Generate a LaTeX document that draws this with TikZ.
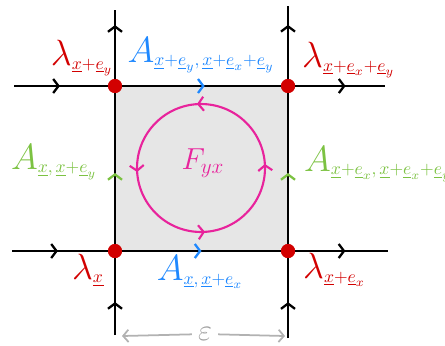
\documentclass[tikz,border=0pt]{standalone}
\usepackage{amsmath,amssymb}
\usepackage{xcolor}
\usetikzlibrary{arrows.meta,decorations.markings,positioning}
\definecolor{sitered}{RGB}{210,0,0}
\definecolor{linkblue}{RGB}{30,136,255}
\definecolor{linkgreen}{RGB}{124,194,66}
\definecolor{fluxpink}{RGB}{232,35,156}
\definecolor{plaqgray}{RGB}{230,230,230}
\newcommand{\vx}{\underline{x}}
\newcommand{\ve}[1]{\underline{e}_{#1}}
\newcommand{\bigsym}[1]{\mbox{\huge$#1$}}
\tikzset{
  site/.style={circle,fill=sitered,inner sep=0pt,minimum size=0.28cm},
  flowmark/.style 2 args={postaction={decorate},decoration={markings,
    mark=at position #1 with {\arrow{Straight Barb[length=3pt,width=8pt,color=#2]}}}},
  lattice/.style={line width=1.3pt,black},
}

\begin{document}
\begin{tikzpicture}[x=0.02cm,y=-0.02cm]
            \useasboundingbox (0,0) rectangle (445,345);
            % --- Plaquette ---
            \fill[plaqgray] (115,86) rectangle (288,251);
            \node[site] (tl) at (115,86) {};
            \node[site] (tr) at (288,86) {};
            \node[site] (bl) at (115,251) {};
            \node[site] (br) at (288,251) {};
            % free ends of the lattice lines
            \coordinate (tlN) at (115,10);
            \coordinate (trN) at (288,6);
            \coordinate (blS) at (115,335);
            \coordinate (brS) at (288,338);
            \coordinate (tlW) at (14,86);
            \coordinate (blW) at (12,251);
            \coordinate (trE) at (385,86);
            \coordinate (brE) at (388,251);
            % links of the plaquette
            \draw[lattice, flowmark={0.52}{linkblue}] (tl) -- (tr);
            \draw[lattice, flowmark={0.5}{linkblue}] (bl) -- (br);
            \draw[lattice, flowmark={0.47}{linkgreen}] (bl) -- (tl);
            \draw[lattice, flowmark={0.47}{linkgreen}] (br) -- (tr);
            % outgoing lines
            \draw[lattice, flowmark={0.78}{black}] (tl) -- (tlN);
            \draw[lattice, flowmark={0.74}{black}] (tr) -- (trN);
            \draw[lattice, flowmark={0.43}{black}] (blS) -- (bl);
            \draw[lattice, flowmark={0.45}{black}] (brS) -- (br);
            \draw[lattice, flowmark={0.49}{black}] (tlW) -- (tl);
            \draw[lattice, flowmark={0.48}{black}] (blW) -- (bl);
            \draw[lattice, flowmark={0.56}{black}] (tr) -- (trE);
            \draw[lattice, flowmark={0.54}{black}] (br) -- (brE);
            % redraw sites on top
            \node[site] at (tl) {};
            \node[site] at (tr) {};
            \node[site] at (bl) {};
            \node[site] at (br) {};

            % --- Flux ---
            \node[fluxpink] (F) at (203,163) {\LARGE $F_{yx}$};
            \draw[fluxpink, line width=1.2pt,
              postaction={decorate},decoration={markings,
                mark=at position 0.01 with {\arrow{Straight Barb[length=3pt,width=8pt]}},
                mark=at position 0.26 with {\arrow{Straight Barb[length=3pt,width=8pt]}},
                mark=at position 0.51 with {\arrow{Straight Barb[length=3pt,width=8pt]}},
                mark=at position 0.76 with {\arrow{Straight Barb[length=3pt,width=8pt]}}}]
              (201,168) circle[radius=1.28cm];

            % --- Labels ---
            \node[sitered] (ltl) at (82,58) {\Large $\bigsym{\lambda}_{\vx+\ve{y}}$};
            \node[sitered, anchor=west] (ltr) at (296,60) {\Large $\bigsym{\lambda}_{\vx+\ve{x}+\ve{y}}$};
            \node[sitered] (lbl) at (88,270) {\Large $\bigsym{\lambda}_{\vx}$};
            \node[sitered, anchor=west] (lbr) at (297,270) {\Large $\bigsym{\lambda}_{\vx+\ve{x}}$};
            \node[linkblue] (atop) at (201,55) {\Large $\bigsym{A}_{\vx+\ve{y},\,\vx+\ve{x}+\ve{y}}$};
            \node[linkblue] (abot) at (200,272) {\Large $\bigsym{A}_{\vx,\,\vx+\ve{x}}$};
            \node[linkgreen] (aleft) at (54,162) {\Large $\bigsym{A}_{\vx,\,\vx+\ve{y}}$};
            \node[linkgreen, anchor=west] (aright) at (298,164) {\Large $\bigsym{A}_{\vx+\ve{x},\,\vx+\ve{x}+\ve{y}}$};

            % --- Lattice spacing ---
            \node[gray!75] (eps) at (205,334) {\LARGE $\varepsilon$};
            \coordinate (epsL) at (122,336);
            \coordinate (epsR) at (285,336);
            \draw[gray!60, line width=1pt, -{Straight Barb[length=3pt,width=7pt]}] (eps) -- (epsL);
            \draw[gray!60, line width=1pt, -{Straight Barb[length=3pt,width=7pt]}] (eps) -- (epsR);
\end{tikzpicture}
\end{document}
